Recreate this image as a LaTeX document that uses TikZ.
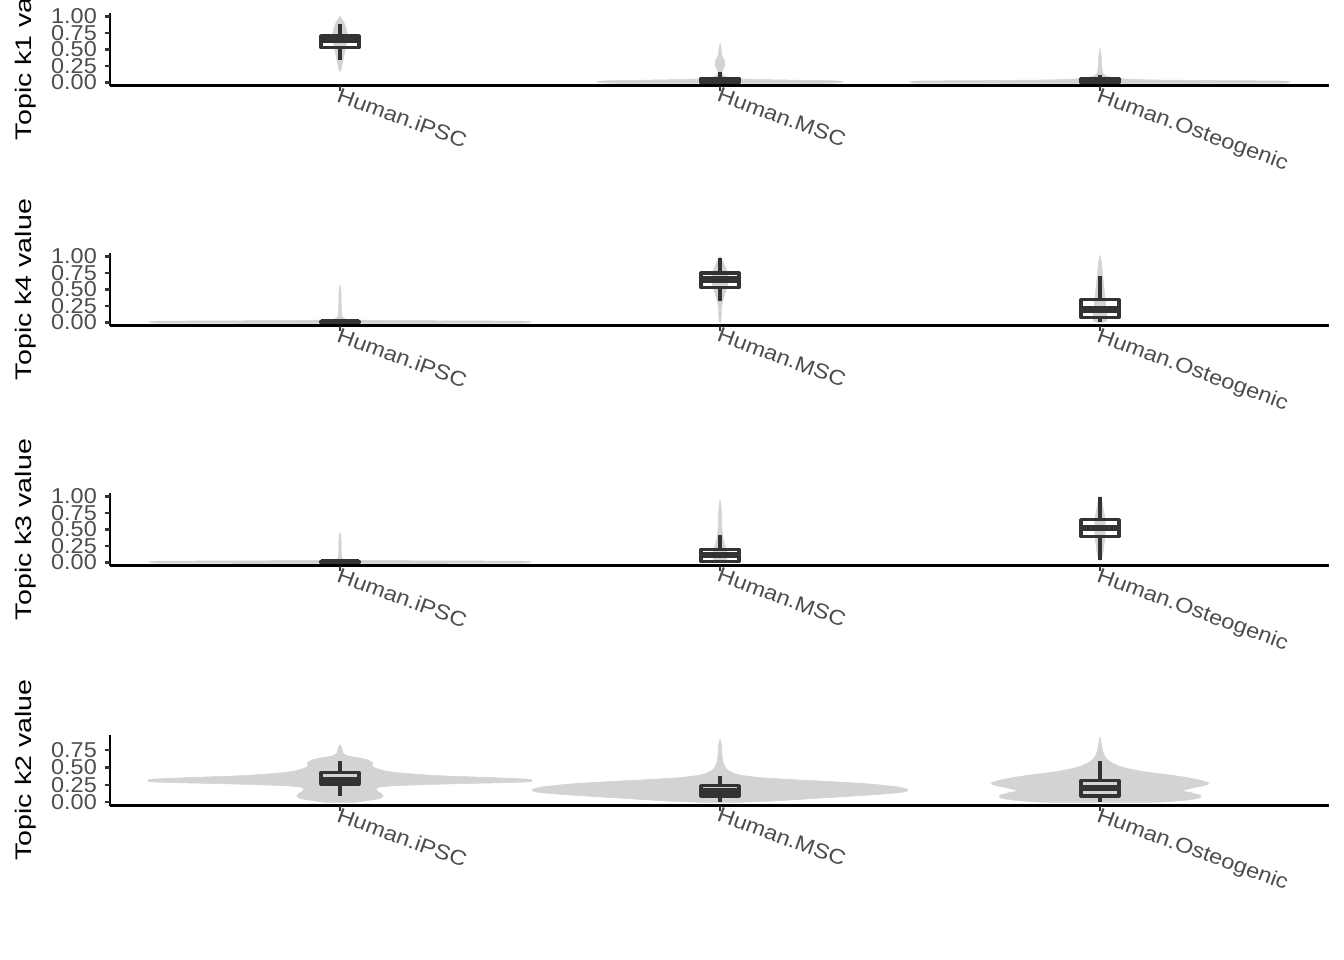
\documentclass[tikz,border=0pt]{standalone}
\usepackage{fontspec}
\setmainfont{Liberation Sans}
\newfontfamily\titlef[FakeStretch=1.27]{Liberation Sans}
\newfontfamily\tickf[FakeStretch=1.09]{Liberation Sans}
\newfontfamily\catf[FakeStretch=1.12]{Liberation Sans}
\definecolor{vgray}{HTML}{D3D3D3}
\definecolor{gtwenty}{HTML}{333333}
\definecolor{gthirty}{HTML}{4D4D4D}
\tikzset{
  viofill/.style={fill=vgray,draw=vgray,line width=0.5pt},
  boxl/.style={draw=gtwenty,line width=3.2pt,line join=round},
  medl/.style={draw=gtwenty,line width=6.4pt},
  axl/.style={draw=black,line width=2.7pt},
  tickl/.style={draw=gtwenty,line width=2.2pt},
  ticklab/.style={font=\tickf\fontsize{21.5}{24}\selectfont,text=gthirty,inner sep=0pt,anchor=east},
  catlab/.style={font=\catf\fontsize{21}{24}\selectfont,text=gthirty,inner sep=0pt,anchor=north west,rotate=-20},
  ytitle/.style={font=\titlef\fontsize{22.5}{26}\selectfont,text=black,inner sep=0pt,anchor=base,rotate=90}
}
% violin: centre x, zero y, scale, right-half profile (w,v) from top to bottom
\newcommand\vio[4]{%
  \begin{scope}[shift={(#1,#2)},yscale=-#3]
    \filldraw[viofill] plot[smooth,tension=0.5] coordinates {#4} -- cycle;
  \end{scope}
  \begin{scope}[shift={(#1,#2)},yscale=-#3,xscale=-1]
    \filldraw[viofill] plot[smooth,tension=0.5] coordinates {#4} -- cycle;
  \end{scope}}
% box: cx, y0, S, lo, q1, med, q3, hi
\newcommand\bxp[8]{%
  \draw[boxl] ({#1},{#2-#3*#8}) -- ({#1},{#2-#3*#7});
  \draw[boxl] ({#1},{#2-#3*#5}) -- ({#1},{#2-#3*#4});
  \draw[boxl] ({#1-19},{#2-#3*#5}) rectangle ({#1+19},{#2-#3*#7});
  \draw[medl] ({#1-19},{#2-#3*#6}) -- ({#1+19},{#2-#3*#6});}
% axes: y0, S, ytop, ybottom, tick list, title, title centre
\newcommand\axes[7]{%
  \draw[axl] (110,#3) -- (110,#4);
  \draw[axl] (110,#4) -- (1329,#4);
  \foreach \t/\l in {#5}{%
    \draw[tickl] (104.5,{#1-#2*\t}) -- (110,{#1-#2*\t});
    \node[ticklab] at (97,{#1-#2*\t}) {\l};}
  \foreach \cx/\nm in {340/Human.iPSC,720/Human.MSC,1100/Human.Osteogenic}{%
    \draw[tickl] (\cx,#4) -- (\cx,{#4+5.5});
    \node[catlab] at ({\cx+1},{#4+1}) {\nm};}
  \node[ytitle] at (31,#7) {#6};}
\begin{document}
\begin{tikzpicture}[x=1pt,y=-1pt]
\useasboundingbox[fill=white] (0,0) rectangle (1344,960);
% ---------- panel 1 (k1)
\vio{340}{82.5}{66}{(0,1.0) (1.5,0.97) (3.5,0.92) (5.5,0.85) (7,0.77) (7,0.67) (6,0.55) (4.5,0.45) (3.2,0.35) (2,0.27) (1.2,0.2) (0,0.17)}
\vio{720}{82.5}{66}{(0,0.58) (1.2,0.5) (1.5,0.42) (3.5,0.36) (5,0.3) (4.5,0.24) (2.5,0.19) (2,0.14) (5,0.09) (15,0.06) (40,0.045) (80,0.035) (110,0.028) (120,0.02) (123,0.01) (120,0.0) (100,-0.012) (0,-0.014)}
\vio{1100}{82.5}{66}{(0,0.5) (1.2,0.4) (1.5,0.3) (2,0.2) (3,0.14) (6,0.1) (14,0.075) (22,0.055) (50,0.04) (100,0.032) (160,0.026) (186,0.02) (190,0.01) (187,0.0) (170,-0.01) (0,-0.012)}
\bxp{340}{82.5}{66}{0.34}{0.53}{0.64}{0.71}{0.89}
\bxp{720}{82.5}{66}{0}{0}{0.025}{0.065}{0.165}
\bxp{1100}{82.5}{66}{0}{0}{0.025}{0.055}{0.12}
\axes{82.5}{66}{13.2}{85.8}{0/0.00,0.25/0.25,0.5/0.50,0.75/0.75,1/1.00}{Topic k1 value}{49.5}
% ---------- panel 2 (k4)
\vio{340}{322.5}{66}{(0,0.57) (1,0.45) (1.2,0.3) (1.5,0.15) (2.5,0.08) (6,0.05) (15,0.038) (50,0.03) (120,0.025) (180,0.02) (191,0.01) (188,0.0) (170,-0.01) (0,-0.012)}
\vio{720}{322.5}{66}{(0,1.0) (2,0.95) (4,0.88) (6.5,0.8) (8,0.72) (8,0.62) (6.5,0.52) (4.5,0.42) (2.5,0.32) (1.5,0.2) (1.2,0.08) (1,0.02) (0,0)}
\vio{1100}{322.5}{66}{(0,1.0) (1.5,0.9) (2.5,0.75) (3.5,0.6) (4.5,0.45) (5.5,0.3) (6.5,0.18) (7,0.08) (6,0.02) (0,0)}
\bxp{340}{322.5}{66}{0}{0}{0.005}{0.015}{0.04}
\bxp{720}{322.5}{66}{0.32}{0.53}{0.65}{0.75}{0.98}
\bxp{1100}{322.5}{66}{0.01}{0.073}{0.195}{0.343}{0.71}
\axes{322.5}{66}{253.2}{325.8}{0/0.00,0.25/0.25,0.5/0.50,0.75/0.75,1/1.00}{Topic k4 value}{289.5}
% ---------- panel 3 (k3)
\vio{340}{562.5}{66}{(0,0.455) (1,0.35) (1.2,0.2) (1.5,0.1) (3,0.05) (10,0.035) (50,0.028) (120,0.024) (180,0.02) (191,0.01) (188,0.0) (170,-0.01) (0,-0.012)}
\vio{720}{562.5}{66}{(0,0.95) (1.2,0.8) (1.5,0.6) (2.5,0.42) (4,0.3) (6,0.2) (7,0.12) (6.5,0.05) (4,0.01) (0,0)}
\vio{1100}{562.5}{66}{(0,1.0) (2,0.92) (3.5,0.8) (5,0.65) (5.5,0.5) (4.5,0.35) (3.5,0.2) (2,0.08) (0,0.03)}
\bxp{340}{562.5}{66}{0}{0}{0.005}{0.015}{0.03}
\bxp{720}{562.5}{66}{0}{0.013}{0.115}{0.20}{0.42}
\bxp{1100}{562.5}{66}{0.04}{0.395}{0.52}{0.65}{1.0}
\axes{562.5}{66}{493.2}{565.8}{0/0.00,0.25/0.25,0.5/0.50,0.75/0.75,1/1.00}{Topic k3 value}{529.5}
% ---------- panel 4 (k2)
\vio{340}{802.3}{69.6}{(0,0.823) (2,0.78) (3,0.708) (8,0.665) (20,0.636) (28,0.608) (33,0.565) (32,0.522) (38,0.478) (52,0.435) (80,0.399) (107,0.378) (150,0.356) (185,0.335) (192,0.316) (188,0.294) (150,0.277) (107,0.263) (60,0.241) (40,0.22) (36,0.191) (38,0.155) (42,0.119) (43,0.091) (40,0.055) (28,0.026) (15,0) (0,0)}
\vio{720}{802.3}{69.6}{(0,0.895) (1.5,0.823) (2,0.68) (3,0.579) (5,0.507) (9,0.45) (20,0.392) (40,0.356) (70,0.328) (110,0.299) (150,0.263) (178,0.22) (188,0.177) (180,0.141) (150,0.105) (110,0.069) (70,0.033) (40,0.011) (20,0) (0,0)}
\vio{1100}{802.3}{69.6}{(0,0.943) (1.5,0.823) (3,0.723) (6,0.636) (12,0.565) (22,0.507) (35,0.464) (50,0.428) (70,0.392) (90,0.349) (103,0.306) (108.7,0.273) (104,0.241) (92,0.205) (83,0.167) (90,0.141) (99,0.105) (101,0.08) (97,0.055) (85,0.029) (60,0.004) (40,0) (0,0)}
\bxp{340}{802.3}{69.6}{0.09}{0.263}{0.32}{0.425}{0.593}
\bxp{720}{802.3}{69.6}{0.01}{0.09}{0.16}{0.239}{0.378}
\bxp{1100}{802.3}{69.6}{0.01}{0.09}{0.205}{0.31}{0.593}
\axes{802.3}{69.6}{735}{805.6}{0/0.00,0.25/0.25,0.5/0.50,0.75/0.75}{Topic k2 value}{770}
\end{tikzpicture}
\end{document}
